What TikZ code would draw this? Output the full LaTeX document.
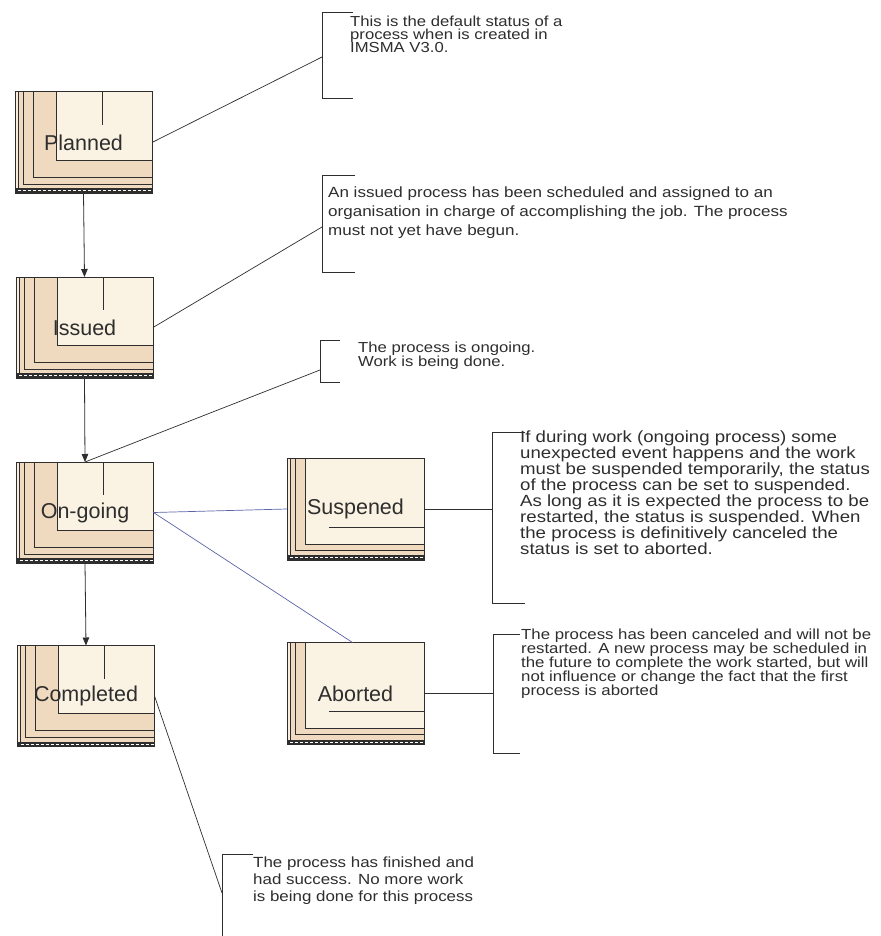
\documentclass[tikz,border=0pt]{standalone}
\usepackage{fontspec}
\setmainfont{Liberation Sans}
\newfontfamily\callfont[FakeStretch=1.15]{Liberation Sans}
\usetikzlibrary{arrows.meta,backgrounds}
\definecolor{peach}{HTML}{F0DABF}
\definecolor{cream}{HTML}{FAF2E2}
\definecolor{ink}{HTML}{2E2E2E}
\definecolor{linkblue}{HTML}{5C64A8}
\newcommand\cfont[2]{\callfont\fontsize{#1}{#2}\selectfont\lineskiplimit=-100pt\lineskip=0pt}
\tikzset{
  statebox/.style={draw=ink, line width=1pt, minimum width=137pt,
    minimum height=101pt, inner sep=0pt, outer sep=0pt, text=ink,
    font=\fontsize{21.5}{24}\selectfont},
  deco/.style={draw=ink, line width=0.9pt},
  flow/.style={draw=ink, line width=0.8pt, -{Triangle[length=8pt,width=6.5pt]}},
  conn/.style={draw=ink, line width=0.7pt},
  bluelink/.style={draw=linkblue, line width=0.7pt},
  bracket/.style={draw=ink, line width=1pt},
  calltext/.style={anchor=north west, inner sep=0pt, align=left, text=ink}
}
\newcommand\leftdeco[1]{%
  \begin{scope}[shift={(#1.north west)}]
    \fill[peach] (0,0) rectangle (137,101);
    \fill[cream] (41,0) rectangle (137,68);
    \fill[white!50!peach] (0,0) rectangle (3,96);
    \draw[deco] (3,0) -- (3,96);
    \draw[deco] (8,0) -- (8,92) -- (137,92);
    \draw[deco] (18,0) -- (18,85) -- (137,85);
    \draw[deco] (41,0) -- (41,68) -- (137,68);
    \draw[deco] (87,0) -- (87,33);
    \fill[ink] (0,96) rectangle (137,101);
    \draw[white,line width=0.9pt,dash pattern=on 3pt off 2pt] (3,98.5) -- (137,98.5);
  \end{scope}}
\newcommand\rightdeco[1]{%
  \begin{scope}[shift={(#1.north west)}]
    \fill[peach] (0,0) rectangle (137,102);
    \fill[cream] (18,0) rectangle (137,86);
    \fill[white!50!peach] (0,0) rectangle (3,97);
    \draw[deco] (3,0) -- (3,97);
    \draw[deco] (8,0) -- (8,92) -- (137,92);
    \draw[deco] (18,0) -- (18,86) -- (137,86);
    \draw[deco] (42,69) -- (137,69);
    \fill[ink] (0,97) rectangle (137,102);
    \draw[white,line width=0.9pt,dash pattern=on 3pt off 2pt] (3,99.5) -- (137,99.5);
  \end{scope}}
\begin{document}
\begin{tikzpicture}[x=1pt,y=-1pt]
\useasboundingbox (0,0) rectangle (880,936);

% state boxes
\node[statebox] (planned) at (83.5,142.5) {Planned};
\node[statebox] (issued) at (84.5,327.5) {Issued};
\node[statebox] (ongoing) at (85,512.5) {On-going};
\node[statebox] (completed) at (86,696) {Completed};
\node[statebox, minimum height=102pt] (suspened) at (355.5,509) {Suspened};
\node[statebox, minimum height=102pt] (aborted) at (355.5,693.5) {Aborted};

% flow arrows
\draw[flow] (planned.south) -- (issued.north);
\draw[flow] (issued.south) -- (ongoing.north);
\draw[flow] (ongoing.south) -- (completed.north);

% blue links
\draw[bluelink] (ongoing.east) -- (suspened.west);
\draw[bluelink] (ongoing.east) -- ([xshift=-3pt]aborted.north);

% callout 1
\node[calltext, font=\cfont{14.5}{13}] (c1) at (350,15.5)
  {This is the default status of a\\process when is created in\\IMSMA V3.0.};
\draw[bracket] (353,13) -- (322,13) -- (322,99) -- (353,99);
\coordinate (c1pin) at (322,57);
\draw[conn] (planned.east) -- (c1pin);

% callout 2
\node[calltext, font=\cfont{14.8}{19}] (c2) at (328,186.5)
  {An issued process has been scheduled and assigned to an\\organisation in charge of accomplishing the job. The process\\must not yet have begun.};
\draw[bracket] (355,176) -- (322,176) -- (322,272) -- (355,272);
\coordinate (c2pin) at (322,227);
\draw[conn] (issued.east) -- (c2pin);

% callout 3
\node[calltext, font=\cfont{14.5}{14}] (c3) at (358,341.5)
  {The process is ongoing.\\Work is being done.};
\draw[bracket] (340,340) -- (320,340) -- (320,382) -- (340,382);
\coordinate (c3pin) at (320,370);
\draw[conn] (ongoing.north) -- (c3pin);

% callout 4
\node[calltext, font=\cfont{16.2}{16}] (c4) at (520,430.5)
  {If during work (ongoing process) some\\unexpected event happens and the work\\must be suspended temporarily, the status\\of the process can be set to suspended.\\As long as it is expected the process to be\\restarted, the status is suspended. When\\the process is definitively canceled the\\status is set to aborted.};
\draw[bracket] (525,432) -- (492,432) -- (492,603) -- (525,603);
\coordinate (c4pin) at (492,509);
\draw[conn] (suspened.east) -- (c4pin);

% callout 5
\node[calltext, font=\cfont{14.6}{14}] (c5) at (521,628.5)
  {The process has been canceled and will not be\\restarted. A new process may be scheduled in\\the future to complete the work started, but will\\not influence or change the fact that the first\\process is aborted};
\draw[bracket] (520,634) -- (493,634) -- (493,753) -- (520,753);
\coordinate (c5pin) at (493,693.5);
\draw[conn] (aborted.east) -- (c5pin);

% callout 6
\node[calltext, font=\cfont{14.7}{17}] (c6) at (253,856.5)
  {The process has finished and\\had success. No more work\\is being done for this process};
\draw[bracket] (253,854) -- (222,854) -- (222,936);
\coordinate (c6pin) at (222,893);
\draw[conn] (completed.east) -- (c6pin);

\begin{pgfonlayer}{background}
  \fill[white] (0,0) rectangle (880,936);
  \leftdeco{planned}
  \leftdeco{issued}
  \leftdeco{ongoing}
  \leftdeco{completed}
  \rightdeco{suspened}
  \rightdeco{aborted}
\end{pgfonlayer}
\end{tikzpicture}
\end{document}
